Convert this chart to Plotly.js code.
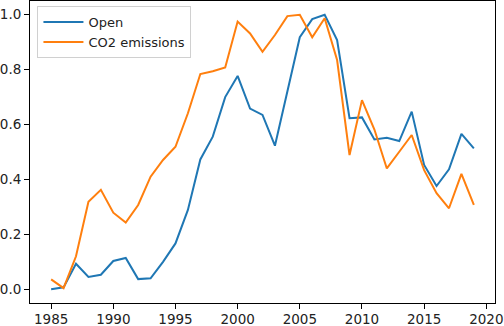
<!DOCTYPE html>
<html>
<head>
<meta charset="utf-8">
<script src="https://cdn.plot.ly/plotly-3.0.1.min.js"></script>
<style>
  html, body { margin: 0; padding: 0; background: #fff; }
  #graph { width: 504px; height: 326px; }
</style>
</head>
<body>
<div id="graph"></div>
<script>
// years on the x axis
const years = [];
for (let y = 1985; y <= 2019; y++) years.push(y);

// normalised series
const openVals = [0.00, 0.007, 0.093, 0.045, 0.053, 0.103, 0.114, 0.037, 0.040, 0.10,
                  0.167, 0.289, 0.473, 0.556, 0.70, 0.777, 0.658, 0.635, 0.523, 0.726,
                  0.918, 0.984, 1.00, 0.908, 0.623, 0.626, 0.546, 0.552, 0.540, 0.647,
                  0.453, 0.376, 0.437, 0.566, 0.513];
const co2Vals = [0.036, 0.004, 0.12, 0.319, 0.362, 0.279, 0.243, 0.307, 0.41, 0.471,
                 0.519, 0.641, 0.784, 0.794, 0.808, 0.975, 0.932, 0.865, 0.926, 0.995,
                 1.00, 0.918, 0.987, 0.835, 0.489, 0.689, 0.582, 0.44, 0.501, 0.562,
                 0.434, 0.35, 0.295, 0.42, 0.307];

const xTicks = [1985, 1990, 1995, 2000, 2005, 2010, 2015, 2020];
const yTicks = [0, 0.2, 0.4, 0.6, 0.8, 1.0];

let data = [{
    x: years, y: openVals,
    type: 'scatter', mode: 'lines', name: 'Open',
    line: {color: '#1f77b4', width: 2}
}, {
    x: years, y: co2Vals,
    type: 'scatter', mode: 'lines', name: 'CO2 emissions',
    line: {color: '#ff7f0e', width: 2}
}];

let axisCommon = {
    showgrid: false,
    zeroline: false,
    showline: true,
    mirror: true,
    linecolor: '#000',
    linewidth: 1,
    ticks: 'outside',
    ticklen: 5,
    tickwidth: 1,
    tickcolor: '#000',
    tickfont: {family: 'DejaVu Sans', size: 13.5, color: '#222'}
};

let layout = {
    width: 504, height: 326,
    margin: {l: 30, r: 9, t: 1, b: 23},
    paper_bgcolor: '#fff',
    plot_bgcolor: '#fff',
    showlegend: true,
    legend: {
        x: 0.016, y: 0.983, xanchor: 'left', yanchor: 'top',
        bgcolor: 'rgba(255,255,255,0.8)',
        bordercolor: '#d0d0d0', borderwidth: 1,
        itemwidth: 40,
        font: {family: 'DejaVu Sans', size: 13, color: '#222'}
    },
    xaxis: Object.assign({}, axisCommon, {
        range: [1983.3, 2020.7],
        tickvals: xTicks,
        ticklabelstandoff: -1
    }),
    yaxis: Object.assign({}, axisCommon, {
        range: [-0.05, 1.05],
        tickvals: yTicks,
        tickformat: '.1f'
    })
};

Plotly.newPlot('graph', data, layout, {displayModeBar: false, staticPlot: true});
</script>
</body>
</html>
